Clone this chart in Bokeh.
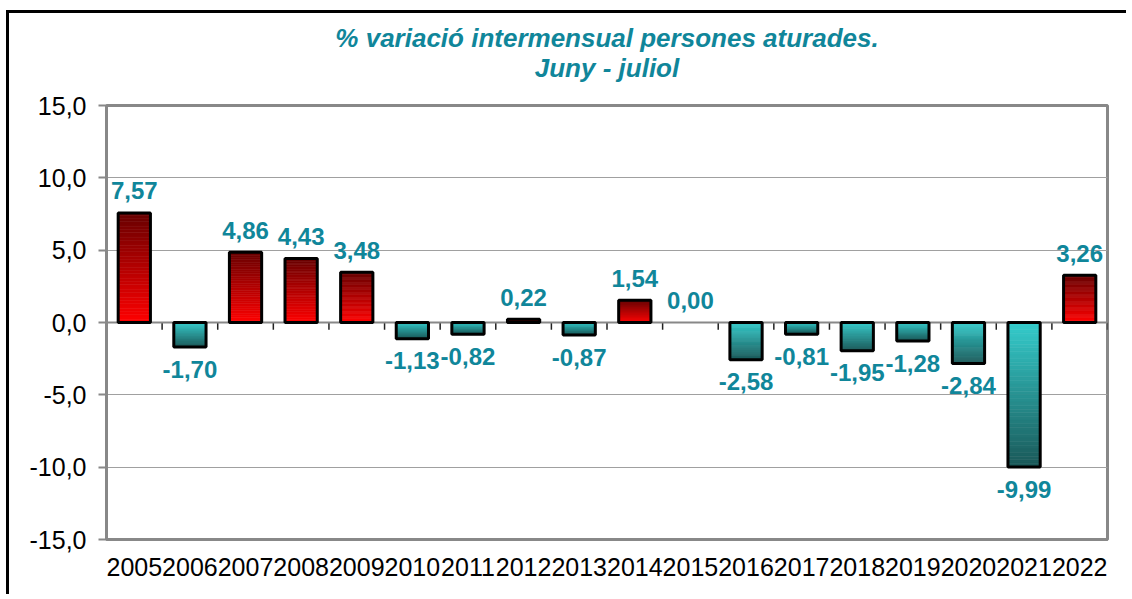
from bokeh.plotting import figure
from bokeh.models import (ColumnDataSource, FixedTicker, CustomJSTickFormatter, Span,
                          Title, Range1d)
from bokeh.transform import dodge
from bokeh.core.properties import value
from bokeh.embed import file_html
from bokeh.resources import INLINE

# ---- data ----
years = ["2005", "2006", "2007", "2008", "2009", "2010", "2011", "2012", "2013",
         "2014", "2015", "2016", "2017", "2018", "2019", "2020", "2021", "2022"]
values = [7.57, -1.70, 4.86, 4.43, 3.48, -1.13, -0.82, 0.22, -0.87,
          1.54, 0.00, -2.58, -0.81, -1.95, -1.28, -2.84, -9.99, 3.26]
y_ticks = [-15, -10, -5, 0, 5, 10, 15]
title_line1 = "% variació intermensual persones aturades."
title_line2 = "Juny - juliol"

# ---- style ----
FONT = "Liberation Sans"
TEAL_TEXT = "#10869a"
GRID = "#a0a0a0"
AXIS = "#888888"
BAR_W = 0.58
N_SLICES = 40


def lerp(c1, c2, t):
    a = [int(c1[i:i + 2], 16) for i in (1, 3, 5)]
    b = [int(c2[i:i + 2], 16) for i in (1, 3, 5)]
    return "#%02x%02x%02x" % tuple(round(a[k] + (b[k] - a[k]) * t) for k in range(3))


# gradient slices (colour runs from bar top to bar bottom)
RED_TOP, RED_BOT = "#680000", "#ff0000"
TEAL_TOP, TEAL_BOT = "#35cccc", "#1a5858"
sx, stop, sbot, scol = [], [], [], []
for yr, v in zip(years, values):
    if v == 0:
        continue
    for k in range(N_SLICES):
        a = v * k / N_SLICES
        b = v * (k + 1) / N_SLICES
        hi, lo = max(a, b), min(a, b)
        if v > 0:
            t = 1 - (k + 0.5) / N_SLICES  # 0 at top, 1 at bottom
            col = lerp(RED_TOP, RED_BOT, t)
        else:
            t = (k + 0.5) / N_SLICES
            col = lerp(TEAL_TOP, TEAL_BOT, t)
        sx.append(yr)
        stop.append(hi)
        sbot.append(lo)
        scol.append(col)
slices = ColumnDataSource(dict(x=sx, top=stop, bottom=sbot, color=scol))

nz = [(y, v) for y, v in zip(years, values) if v != 0]
outline = ColumnDataSource(dict(x=[y for y, _ in nz], top=[v for _, v in nz]))

labels = ColumnDataSource(dict(
    x=years, y=values,
    text=[f"{v:.2f}".replace(".", ",") for v in values],
    off=[22 if v < 0 else -22 for v in values],
))

p = figure(x_range=years, y_range=Range1d(-15, 15), width=1120, height=584,
           output_backend="svg", toolbar_location=None,
           min_border_left=97, min_border_right=22, min_border_top=92,
           min_border_bottom=58, background_fill_color="white",
           border_fill_color="white")
p.styles = {"border-left": "3px solid black", "border-top": "3px solid black",
            "margin-left": "6px", "margin-top": "10px"}

# titles: first added sits closest to the frame
title_style = dict(align="center", text_font=FONT, text_font_size="26px",
                   text_font_style="bold italic", text_color=TEAL_TEXT,
                   text_line_height=1.0)
p.add_layout(Title(text=" ", standoff=18, text_font_size="1px"), "above")  # spacer
p.add_layout(Title(text=title_line2, standoff=0, vertical_align="top", **title_style), "above")
p.add_layout(Title(text=title_line1, standoff=0, vertical_align="bottom", **title_style), "above")

p.vbar(x="x", top="top", bottom="bottom", width=BAR_W, source=slices,
       fill_color="color", line_color="color", line_width=0.6)
p.vbar(x="x", top="top", bottom=0, width=BAR_W, source=outline,
       fill_alpha=0, line_color="black", line_width=3)

p.add_layout(Span(location=0, dimension="width", line_color=AXIS,
                  line_width=2, level="underlay"))
p.segment(x0=dodge("x", 0.5, range=p.x_range), y0=0,
          x1=dodge("x", 0.5, range=p.x_range), y1=-0.5,
          source=ColumnDataSource(dict(x=years)), line_color="#222222",
          line_width=1.5, level="underlay")

p.text(x="x", y="y", text="text", y_offset="off", source=labels,
       text_align="center", text_baseline="middle", text_font=value(FONT),
       text_font_size="24px", text_font_style="bold", text_color=TEAL_TEXT)

# axes
p.yaxis.ticker = FixedTicker(ticks=y_ticks)
p.yaxis.formatter = CustomJSTickFormatter(code="return tick.toFixed(1).replace('.', ',');")
p.yaxis.major_label_text_font = FONT
p.yaxis.major_label_text_font_size = "25px"
p.yaxis.major_label_text_color = "black"
p.yaxis.axis_line_color = AXIS
p.yaxis.axis_line_width = 3
p.yaxis.major_tick_line_color = AXIS
p.yaxis.major_tick_line_width = 2
p.yaxis.major_tick_out = 8
p.yaxis.major_tick_in = 0
p.yaxis.minor_tick_line_color = None
p.yaxis.major_label_standoff = 12

p.xaxis.major_label_text_font = FONT
p.xaxis.major_label_text_font_size = "25px"
p.xaxis.major_label_text_color = "black"
p.xaxis.axis_line_color = AXIS
p.xaxis.axis_line_width = 3
p.xaxis.major_tick_line_color = None
p.xaxis.minor_tick_line_color = None
p.xaxis.major_label_standoff = 12

p.xgrid.grid_line_color = None
p.ygrid.grid_line_color = GRID
p.ygrid.grid_line_width = 1
p.outline_line_color = AXIS
p.outline_line_width = 3

open("out.html", "w").write(file_html(p, INLINE))
